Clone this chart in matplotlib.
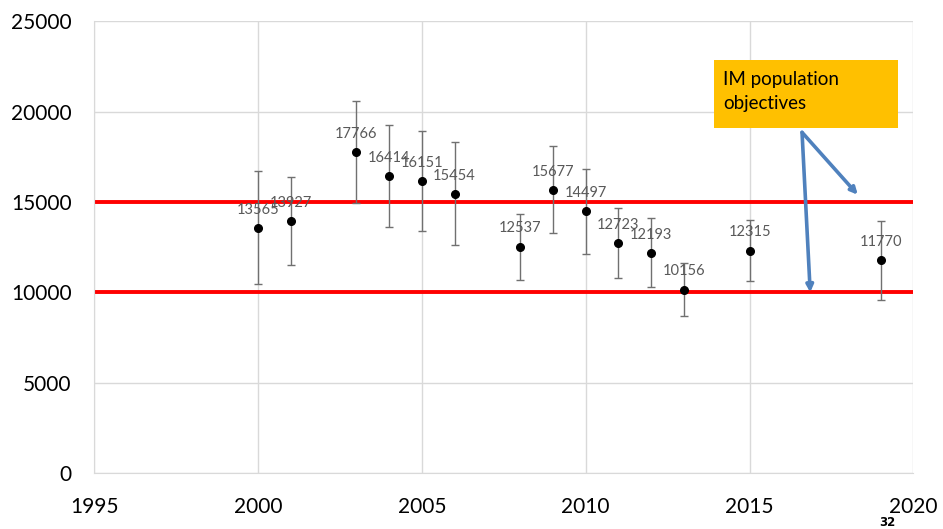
"""Recreate IM population estimates chart with error bars."""

import matplotlib
matplotlib.use('Agg')
from matplotlib import pyplot as plt
from matplotlib.patches import Rectangle
import numpy as np

plt.rcParams['font.family'] = ['Lato', 'DejaVu Sans']

# Survey years and population estimates
YEARS = [2000, 2001, 2003, 2004, 2005, 2006, 2008, 2009, 2010, 2011,
         2012, 2013, 2015, 2019]
ESTIMATES = [13565, 13927, 17766, 16414, 16151, 15454, 12537, 15677,
             14497, 12723, 12193, 10156, 12315, 11770]
UPPER = [16720, 16355, 20560, 19250, 18950, 18300, 14360, 18085,
         16850, 14675, 14120, 11650, 14010, 13955]
LOWER = [10450, 11520, 14970, 13620, 13370, 12630, 10710, 13290,
         12150, 10800, 10290, 8680, 10635, 9605]

# Population objectives
OBJECTIVES = [15000, 10000]

X_TICKS = [1995, 2000, 2005, 2010, 2015, 2020]
Y_TICKS = [0, 5000, 10000, 15000, 20000, 25000]

GRID = '#d9d9d9'
LABEL_GRAY = '#595959'
BAR_GRAY = '#707070'
ORANGE = '#FFC000'
BLUE = '#4F81BD'

fig = plt.figure(figsize=(9.43, 5.29), dpi=100)
ax = fig.add_axes([0.0997, 0.1055, 0.869, 0.8545])

ax.set_xlim(1995, 2020)
ax.set_ylim(0, 25000)
ax.set_xticks(X_TICKS)
ax.set_yticks(Y_TICKS)
ax.grid(True, color=GRID, linewidth=1)
ax.set_axisbelow(True)
for side in ['left', 'bottom']:
    ax.spines[side].set_color(GRID)
ax.spines['top'].set_visible(False)
ax.spines['right'].set_visible(False)
ax.tick_params(length=0, labelsize=15, colors='black')
ax.tick_params(axis='x', pad=17)
ax.tick_params(axis='y', pad=16)

# Objective lines
for obj in OBJECTIVES:
    ax.axhline(obj, color='#ff0000', linewidth=2.8, zorder=2)

# Estimates with error bars
est = np.array(ESTIMATES)
yerr = [est - np.array(LOWER), np.array(UPPER) - est]
ax.errorbar(YEARS, ESTIMATES, yerr=yerr, fmt='o', color='black',
            markersize=5.5, ecolor=BAR_GRAY, elinewidth=1, capsize=2.6,
            capthick=1, zorder=3)

for x, y in zip(YEARS, ESTIMATES):
    ax.annotate(str(y), (x, y), xytext=(0, 8), textcoords='offset points',
                ha='center', va='bottom', fontsize=10.5, color=LABEL_GRAY,
                zorder=4)

# Objectives callout box
fig.patches.append(Rectangle((0.7572, 0.758), 0.1951, 0.1285,
                             transform=fig.transFigure, facecolor=ORANGE,
                             edgecolor='none', zorder=5))
fig.text(0.7667, 0.8393, 'IM population', fontsize=13.5, ha='left',
         va='baseline', color='black', zorder=6)
fig.text(0.7667, 0.794, 'objectives', fontsize=13.5, ha='left',
         va='baseline', color='black', zorder=6)

arrow_props = dict(arrowstyle='-|>', color=BLUE, linewidth=2.6,
                   mutation_scale=10, shrinkA=0, shrinkB=0)
ax.annotate('', xy=(2018.3, 15400), xytext=(2016.6, 18850),
            arrowprops=arrow_props)
ax.annotate('', xy=(2016.85, 10000), xytext=(2016.6, 18850),
            arrowprops=arrow_props)

# Slide number
fig.text(0.9406, 0.013, '32', fontsize=8.5, fontweight='bold', ha='center',
         va='center', family=['DejaVu Sans'])

fig.savefig('out.png', dpi=100)
